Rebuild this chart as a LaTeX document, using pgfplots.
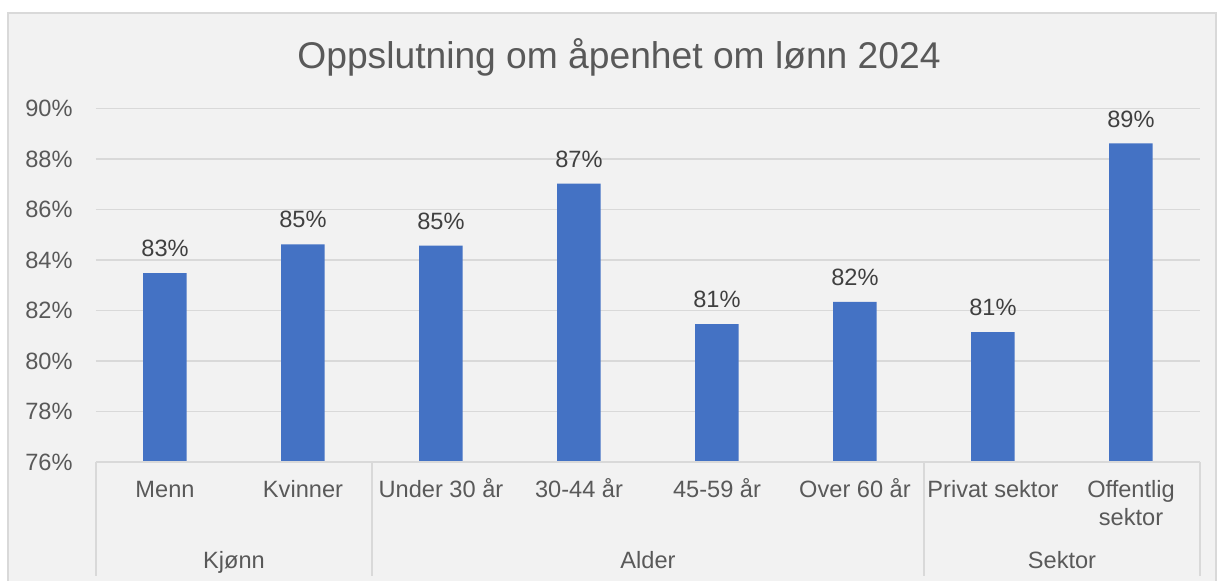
\documentclass[border=0pt]{standalone}
\usepackage{pgfplots}
\pgfplotsset{compat=1.18}
\usepackage{fontspec}
\setmainfont{Liberation Sans}
\definecolor{bg}{HTML}{F2F2F2}
\definecolor{bd}{HTML}{D9D9D9}
\definecolor{txt}{HTML}{595959}
\definecolor{lab}{HTML}{404040}
\definecolor{barc}{HTML}{4472C4}
\pgfplotstableread{
x y l
0 83.48 83
1 84.62 85
2 84.57 85
3 87.03 87
4 81.46 81
5 82.34 82
6 81.14 81
7 88.62 89
}\datatab
\begin{document}
\begin{tikzpicture}
\useasboundingbox (-48pt,-59.5pt) rectangle (560.5pt,231pt);
\fill[bg] (-44pt,-70pt) rectangle (560pt,224.5pt);
\draw[bd, line width=0.8pt] (-44pt,-70pt) -- (-44pt,224.5pt) -- (560pt,224.5pt) -- (560pt,-70pt);
\begin{axis}[
  at={(0pt,0pt)}, anchor=south west,
  scale only axis, width=552pt, height=176.7pt,
  xmin=-0.5, xmax=7.5, ymin=76, ymax=90,
  ytick={76,78,80,82,84,86,88,90},
  yticklabels={76\%,78\%,80\%,82\%,84\%,86\%,88\%,90\%},
  xtick={0,1,2,3,4,5,6,7},
  xticklabels={Menn,Kvinner,Under 30 år,30-44 år,45-59 år,Over 60 år,Privat sektor,{\begin{tabular}[t]{@{}c@{}}Offentlig\\sektor\end{tabular}}},
  axis line style={draw=none},
  major tick length=0pt,
  ymajorgrids, grid style={bd, line width=0.7pt},
  yticklabel style={anchor=east, inner sep=0pt, xshift=-11.5pt, font=\fontsize{11.8}{14}\selectfont, text=txt},
  xticklabel style={anchor=base, inner sep=0pt, yshift=-18pt, font=\fontsize{11.8}{14}\selectfont, text=txt},
  ybar, bar width=21.75pt,
  clip=false,
]
\addplot[fill=barc, draw=none, bar shift=0pt,
  point meta=explicit symbolic,
  nodes near coords={\pgfplotspointmeta\%},
  nodes near coords style={anchor=base, yshift=8.2pt, inner sep=0pt, font=\fontsize{11.8}{14}\selectfont, text=lab}]
  table[x=x, y=y, meta=l] {\datatab};
\end{axis}
\draw[bd, line width=0.8pt] (0pt,0pt) -- (552pt,0pt);
\foreach \xx in {0,138,414,552} {\draw[bd, line width=0.8pt] (\xx pt,0pt) -- (\xx pt,-57pt);}
\node[anchor=base, inner sep=0pt, text=txt, font=\fontsize{11.8}{14}\selectfont] at (69pt,-53.5pt) {Kjønn};
\node[anchor=base, inner sep=0pt, text=txt, font=\fontsize{11.8}{14}\selectfont] at (276pt,-53.5pt) {Alder};
\node[anchor=base, inner sep=0pt, text=txt, font=\fontsize{11.8}{14}\selectfont] at (483pt,-53.5pt) {Sektor};
\node[anchor=base, inner sep=0pt, text=txt, font=\fontsize{18.6}{22}\selectfont] at (261.5pt,196.5pt) {Oppslutning om åpenhet om lønn 2024};
\end{tikzpicture}
\end{document}
